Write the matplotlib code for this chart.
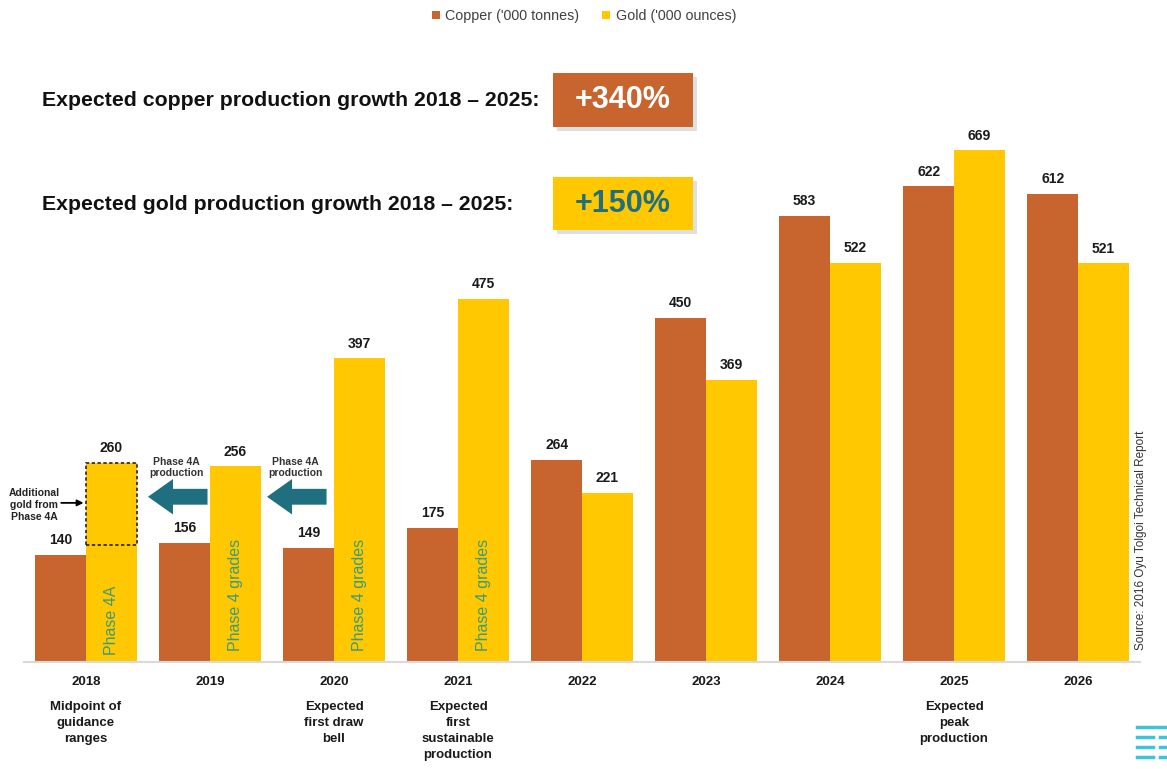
import numpy as np
import matplotlib
matplotlib.use("Agg")
import matplotlib.pyplot as plt
from matplotlib.patches import Rectangle

plt.rcParams['font.family'] = ['Liberation Sans', 'DejaVu Sans']

years = ['2018', '2019', '2020', '2021', '2022', '2023', '2024', '2025', '2026']
copper = [140, 156, 149, 175, 264, 450, 583, 622, 612]
gold = [260, 256, 397, 475, 221, 369, 522, 669, 521]
notes = ['Midpoint of\nguidance\nranges', '', 'Expected\nfirst draw\nbell', 'Expected\nfirst\nsustainable\nproduction',
         '', '', '', 'Expected\npeak\nproduction', '']
bar_text = ['Phase 4A', 'Phase 4 grades', 'Phase 4 grades', 'Phase 4 grades']

COPPER = '#C8652F'
GOLD = '#FFC800'
TEAL = '#1F6F80'
GREEN = '#3D9A78'

W, H = 1167, 769
fig = plt.figure(figsize=(W / 100, H / 100), dpi=100)
ax = fig.add_axes([24 / W, 107 / H, 1116 / W, 612 / H])

x = np.arange(len(years))
bw = 0.41
ax.bar(x - bw / 2, copper, bw, color=COPPER, label="Copper ('000 tonnes)")
ax.bar(x + bw / 2, gold, bw, color=GOLD, label="Gold ('000 ounces)")

for i in range(len(years)):
    ax.text(x[i] - bw / 2, copper[i] + 10, str(copper[i]), ha='center', va='bottom',
            fontsize=10, fontweight='bold', color='#1a1a1a')
    ax.text(x[i] + bw / 2, gold[i] + 10, str(gold[i]), ha='center', va='bottom',
            fontsize=10, fontweight='bold', color='#1a1a1a')

# text inside the early gold bars
for i, t in enumerate(bar_text):
    yc = 55 if i == 0 else 88
    ax.text(x[i] + bw / 2, yc, t, rotation=90, ha='center', va='center',
            fontsize=11.5, color=GREEN)

# dashed box for the additional Phase 4A gold
ax.add_patch(Rectangle((x[0], 153), bw, gold[0] - 153, fill=False,
                       ls=(0, (2, 1.5)), lw=1.2, ec='#222222', zorder=3))

# Phase 4A arrows
for xs, xe, xl in [(0.98, 0.50, 0.73), (1.94, 1.46, 1.69)]:
    ax.annotate('', xy=(xe, 216), xytext=(xs, 216),
                arrowprops=dict(arrowstyle='simple,head_length=0.6,head_width=0.85,tail_width=0.38',
                                color=TEAL, lw=0, mutation_scale=30, shrinkA=0, shrinkB=0))
    ax.text(xl, 254, 'Phase 4A\nproduction', ha='center', va='center',
            fontsize=7.5, fontweight='bold', color='#333333', linespacing=1.15)

ax.text(-0.42, 205, 'Additional\ngold from\nPhase 4A', ha='center', va='center',
        fontsize=7.5, fontweight='bold', color='#222222', linespacing=1.25)
ax.annotate('', xy=(-0.02, 208), xytext=(-0.2, 208),
            arrowprops=dict(arrowstyle='-|>', color='black', lw=1.3, mutation_scale=9,
                            shrinkA=0, shrinkB=0))

ax.set_xlim(-0.5, len(years) - 0.5)
ax.set_ylim(0, 800)
ax.set_xticks(x)
ax.set_xticklabels(years, fontsize=9.5, fontweight='bold', color='#1a1a1a')
ax.tick_params(axis='x', length=0, pad=10)
ax.set_yticks([])
for s in ['top', 'right', 'left']:
    ax.spines[s].set_visible(False)
ax.spines['bottom'].set_color('#d9d9d9')
ax.spines['bottom'].set_linewidth(1.5)

for i, n in enumerate(notes):
    if n:
        ax.text(x[i], -51, n, ha='center', va='top', fontsize=9.5, fontweight='bold',
                color='#1a1a1a', linespacing=1.45)

ax.legend(loc='center', bbox_to_anchor=((584 - 24) / 1116, 1 + (50 - 16) / 612), ncol=2,
          frameon=False, fontsize=10.3, handlelength=0.55, handleheight=0.55,
          columnspacing=1.6, handletextpad=0.4, labelcolor='#404040')

# headline statements with boxes
fig.text(42 / W, 1 - 101 / H, 'Expected copper production growth 2018 \u2013 2025:',
         fontsize=15.3, fontweight='bold', va='center', ha='left', color='#111111')
fig.text(42 / W, 1 - 204 / H, 'Expected gold production growth 2018 \u2013 2025:',
         fontsize=15.3, fontweight='bold', va='center', ha='left', color='#111111')
for (y0, y1, fc, tc, t) in [(73, 127, COPPER, 'white', '+340%'), (177, 230, GOLD, TEAL, '+150%')]:
    fig.patches.append(Rectangle(((553 + 4) / W, 1 - (y1 + 4) / H), 140 / W, (y1 - y0) / H,
                                 transform=fig.transFigure, fc='#c0c0c0', ec='none', alpha=0.5))
    fig.patches.append(Rectangle((553 / W, 1 - y1 / H), 140 / W, (y1 - y0) / H,
                                 transform=fig.transFigure, fc=fc, ec='none'))
    fig.text(623 / W, 1 - (y0 + y1) / 2 / H, t, fontsize=22, fontweight='bold',
             color=tc, ha='center', va='center')

fig.text(1141 / W, 1 - 540 / H, 'Source: 2016 Oyu Tolgoi Technical Report', rotation=90,
         fontsize=8.5, color='#333333', ha='center', va='center')

# small logo lines in the corner
for yy, x0, x1 in [(727, 1137, 1167), (737, 1137, 1153), (747, 1137, 1153), (757, 1137, 1153),
                   (737, 1160, 1167), (747, 1160, 1167), (757, 1160, 1167)]:
    fig.add_artist(plt.Line2D([x0 / W, x1 / W], [1 - yy / H, 1 - yy / H], color='#3EC3DC',
                              lw=2.5, transform=fig.transFigure))

fig.savefig('out.png', dpi=100)
